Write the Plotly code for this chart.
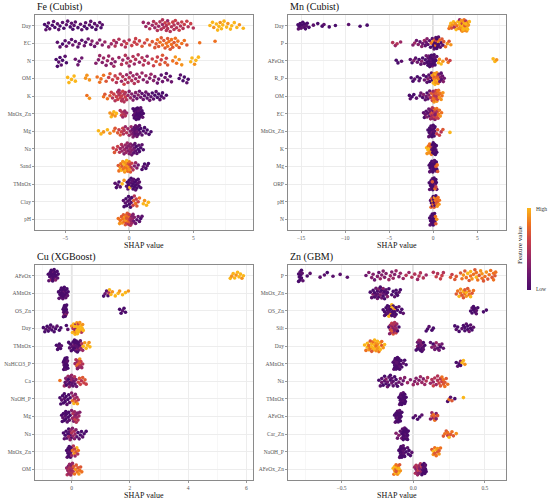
import numpy as np
import plotly.graph_objects as go

# ---------------- DATA (SHAP value, feature value 0=low..10=high) ----------------
FE_FEATURES = ["Day", "EC", "N", "OM", "K", "MnOx_Zn", "Mg", "Na", "Sand", "TMnOx", "Clay", "pH"]
FE_SHAP = [
    # Day
    [-6.6, -6.5, -6.4, -6.3, -6.2, -6.0, -5.9, -5.8, -5.6, -5.5,
     -5.4, -5.2, -5.1, -4.9, -4.8, -4.6, -4.5, -4.4, -4.3, -4.2,
     -4.0, -3.8, -3.7, -3.5, -3.4, -3.3, -3.1, -3.0, -2.9, -2.7,
     -2.6, -2.5, -2.3, -2.2, -2.1,
     1.1, 1.3, 1.5, 1.6, 1.8, 1.9, 2.0, 2.1, 2.2, 2.3,
     2.4, 2.5, 2.6, 2.6, 2.7, 2.8, 2.9, 2.9, 3.0, 3.0,
     3.1, 3.2, 3.3, 3.4, 3.5, 3.5, 3.6, 3.7, 3.8, 3.9,
     4.0, 4.1, 4.2, 4.3, 4.5, 4.6, 4.8, 5.0,
     6.3, 6.5, 6.6, 6.8, 6.9, 7.0, 7.1, 7.2, 7.3, 7.4,
     7.6, 7.7, 7.9, 8.0, 8.2, 8.4, 8.6, 8.9],
    # EC
    [-5.6, -5.4, -5.2, -5.0, -4.9, -4.7, -4.5, -4.4, -4.2, -4.0,
     -3.9, -3.7, -3.5, -3.4, -3.2, -3.0, -2.9, -2.7, -2.5, -2.3,
     -2.1, -1.9, -1.6, -1.4, -1.2, -1.0, -0.8, -0.6, -0.4, -0.2,
     0.0, 0.2, 0.4, 0.6, 0.8, 1.0, 1.2, 1.4, 1.6, 1.8,
     2.0, 2.2, 2.3, 2.5, 2.6, 2.8, 2.9, 3.0, 3.1, 3.2,
     3.3, 3.4, 3.6, 3.7, 3.9, 4.1, 4.3, 4.5, 5.5, 6.7,
     2.1, 2.4, 2.7, 3.0, 3.3, 3.5, 3.8, -1.1, -0.3, 0.5],
    # N
    [-5.7, -5.6, -5.5, -5.4, -5.3, -5.2, -5.0, -4.9,
     -4.2, -4.0, -3.9, -3.7,
     -2.6, -2.4, -2.3, -2.1, -2.0, -1.8, -1.7, -1.6, -1.4, -1.3, -1.2, -1.1,
     -0.8, -0.6, -0.5, -0.3, -0.2, 0.0, 0.1, 0.3, 0.4, 0.5, 0.7, 0.8, 1.0, 1.1, 1.2, 1.4, 1.5, -0.1,
     1.8, 1.9, 2.1, 2.2, 2.4, 2.5, 2.6, 2.8, 2.9, 3.0,
     3.4, 3.6, 3.7, 3.9, 4.1,
     4.8, 4.9, 5.1, 5.2, 5.4],
    # OM
    [-4.8, -4.7, -4.5, -4.3, -4.2,
     -3.4, -3.3, -3.1,
     -2.5, -2.3, -2.2, -2.0,
     -1.8, -1.6, -1.5, -1.3, -1.1,
     -1.0, -0.9, -0.7, -0.6, -0.5, -0.4, -0.3, -0.2, -0.1, 0.0, 0.1, 0.2, 0.3, 0.4, 0.5, 0.6, 0.7, 0.8,
     1.0, 1.1, 1.3, 1.4, 1.6, 1.7, 1.9, 2.0,
     2.2, 2.3, 2.5, 2.6, 2.8, 2.9, 3.0, 3.2, 3.3,
     3.9, 4.0, 4.2, 4.3, 4.5, 4.6],
    # K
    [-3.3, -3.1,
     -2.0, -1.9, -1.7, -1.5,
     -1.4, -1.3, -1.2, -1.1, -1.0, -0.9, -0.9, -0.8, -0.7, -0.7, -0.6, -0.5, -0.5, -0.4, -0.3, -0.3, -0.2, -0.8, -0.6, -0.4,
     -0.1, 0.0, 0.1, 0.2, 0.3, 0.4, 0.5, 0.6, 0.7, 0.8, 0.9, 1.0, 1.1, 1.2, 1.3, 1.4, 1.5, 1.6,
     1.7, 1.8, 1.9, 2.0, 2.1, 2.2, 2.3, 2.4, 2.5, 2.6, 2.7, 2.9],
    # MnOx_Zn
    [-1.5, -1.4, -1.3, -1.2, -1.1, -1.0,
     -0.7, -0.6, -0.55, -0.5, -0.4, -0.35, -0.3, -0.2,
     0.3, 0.35, 0.4, 0.4, 0.45, 0.5, 0.5, 0.55, 0.6, 0.6, 0.6, 0.65, 0.7, 0.7, 0.75, 0.8, 0.8, 0.85, 0.9, 0.9,
     0.95, 1.0, 1.05, 1.1, 0.55, 0.65],
    # Mg
    [-2.4, -2.2, -2.0, -1.7, -1.5,
     -1.2, -1.1, -0.9, -0.8, -0.7, -0.6, -0.5,
     -0.45, -0.4, -0.3, -0.2, -0.1, 0.0, 0.1, 0.15,
     0.2, 0.25, 0.3, 0.35, 0.4, 0.4, 0.45, 0.5, 0.5, 0.55, 0.6, 0.65, 0.7, 0.75, 0.8, 0.85, 0.9, 1.0, 1.1, 1.2, 1.3, 0.6,
     1.4, 1.55, 1.7],
    # Na
    [-1.25, -1.15, -1.0, -0.9, -0.75,
     -0.7, -0.6, -0.55, -0.5, -0.4, -0.35, -0.3, -0.2, -0.15, -0.1, 0.0, 0.05, 0.1, 0.15, 0.2, 0.25, 0.3, -0.25, -0.05, 0.1,
     0.35, 0.4, 0.45, 0.5, 0.55, 0.6, 0.7, 0.75, 0.8, 0.9, 1.0, 1.1],
    # Sand
    [-0.85, -0.8, -0.7, -0.65, -0.6, -0.55, -0.5, -0.45, -0.4, -0.35, -0.3, -0.25, -0.2, -0.15, -0.1, -0.05, 0.0, 0.05, 0.1, 0.15,
     0.2, 0.3, -0.3, -0.2, -0.1, 0.0,
     0.4, 0.5, 0.6, 0.7,
     1.0, 1.1, 1.2, 1.3, 1.4, 1.5],
    # TMnOx
    [-1.1, -1.0, -0.9, -0.8, -0.7,
     -0.55, -0.4,
     -0.2, -0.15, -0.1, -0.05, 0.0, 0.05, 0.1, 0.15, 0.2, 0.25, 0.3, 0.35, 0.4, 0.45, 0.5, 0.55, 0.6, 0.65, 0.7, 0.75,
     0.8, 0.9, 0.3, 0.5],
    # Clay
    [-0.45, -0.4, -0.3, -0.25, -0.2, -0.1, -0.05, 0.0, 0.05, 0.1, 0.15, 0.2,
     0.3, 0.35, 0.4, 0.5, 0.55, 0.6, 0.7, 0.8,
     1.1, 1.2, 1.35, 1.5],
    # pH
    [-0.85, -0.75, -0.7, -0.6, -0.55, -0.5, -0.45, -0.4, -0.35, -0.3, -0.25, -0.2, -0.15, -0.1, -0.05, 0.0, 0.05, 0.1, 0.15, 0.2,
     0.25, 0.3, 0.35, 0.4, 0.5, 0.6, 0.7, 0.8, 0.9, 1.0,
     -0.3, -0.1, 0.1, 0.2, -0.2, 0.0],
]
FE_FVAL = [
    [0, 1, 0, 1, 1, 0, 1, 0, 1, 1, 0, 1, 0, 1, 1, 0, 1, 0, 1, 1, 0, 1, 1, 0, 1, 0, 1, 1, 0, 1, 0, 1, 1, 0, 1,
     4, 4, 4, 5, 4, 5, 4, 5, 5, 4, 5, 5, 4, 5, 5, 6, 5, 5, 4, 5, 6, 5, 5, 6, 5, 5, 6, 5, 5, 6, 5, 6, 5, 6, 6, 5, 6, 5,
     10, 10, 9, 10, 10, 10, 9, 10, 10, 10, 10, 9, 10, 10, 10, 10, 9, 10],
    [1, 1, 0, 1, 2, 1, 1, 2, 1, 1, 2, 1, 2, 1, 2, 2, 3, 2, 3, 3, 3, 4, 4, 4, 5, 4, 5, 5, 5, 6,
     5, 6, 6, 6, 6, 7, 6, 7, 7, 7, 7, 8, 7, 7, 8, 7, 8, 7, 8, 7, 8, 7, 8, 8, 7, 8, 8, 7, 8, 8,
     7, 8, 7, 8, 8, 7, 8, 5, 5, 6],
    [0, 0, 1, 0, 1, 0, 1, 0,
     2, 2, 1, 2,
     3, 3, 4, 3, 4, 3, 4, 4, 3, 4, 4, 3,
     4, 5, 4, 5, 5, 4, 5, 5, 4, 5, 5, 4, 5, 5, 5, 4, 5, 4,
     6, 6, 7, 6, 7, 6, 7, 7, 6, 7,
     8, 9, 8, 9, 9,
     10, 10, 9, 10, 10],
    [10, 10, 10, 10, 10,
     9, 9, 9,
     8, 8, 8, 8,
     7, 6, 7, 6, 6,
     5, 6, 5, 4, 5, 6, 5, 4, 5, 5, 4, 5, 4, 5, 4, 4, 5, 4,
     4, 3, 4, 3, 3, 4, 3, 3,
     2, 2, 1, 2, 2, 1, 2, 1, 2,
     0, 1, 0, 0, 1, 0],
    [8, 9,
     8, 7, 8, 7,
     6, 5, 6, 5, 6, 5, 6, 5, 6, 5, 5, 6, 5, 5, 6, 5, 5, 4, 6, 5,
     4, 3, 4, 3, 3, 2, 3, 2, 3, 2, 2, 1, 2, 1, 2, 1, 1, 2,
     1, 0, 1, 0, 1, 0, 0, 1, 0, 0, 1, 0],
    [9, 10, 9, 10, 9, 10,
     5, 6, 5, 4, 5, 4, 5, 4,
     0, 1, 0, 0, 1, 0, 0, 1, 0, 0, 1, 0, 0, 1, 0, 0, 1, 0, 0, 1, 0, 0, 1, 0, 0, 0],
    [10, 10, 9, 10, 9,
     8, 7, 7, 6, 7, 6, 6,
     5, 5, 4, 5, 4, 4, 3, 4,
     3, 2, 3, 2, 1, 2, 1, 2, 1, 1, 2, 1, 1, 0, 1, 1, 0, 1, 0, 0, 1, 2,
     0, 0, 0],
    [6, 7, 6, 6, 5,
     4, 5, 4, 4, 3, 4, 4, 3, 4, 3, 3, 4, 3, 3, 2, 3, 2, 4, 3, 3,
     1, 2, 1, 1, 0, 1, 0, 1, 0, 0, 1, 0],
    [7, 8, 9, 8, 10, 7, 9, 8, 10, 9, 8, 10, 9, 8, 7, 9, 8, 6, 7, 5, 6, 5, 9, 10, 8, 9,
     3, 4, 3, 2,
     0, 1, 0, 0, 1, 0],
    [1, 0, 1, 0, 1,
     10, 9,
     1, 0, 1, 0, 0, 10, 1, 0, 0, 1, 0, 1, 0, 0, 1, 0, 0, 1, 0, 0, 1, 0, 0, 0],
    [1, 0, 1, 0, 0, 1, 0, 0, 1, 0, 1, 0,
     6, 7, 5, 8, 6, 7, 6, 8,
     10, 9, 10, 10],
    [8, 9, 8, 7, 9, 8, 7, 8, 9, 7, 8, 6, 7, 8, 5, 6, 7, 5, 4, 3, 4, 3, 2, 3, 2, 1, 2, 1, 0, 1,
     9, 8, 5, 4, 7, 6],
]

MN_FEATURES = ["Day", "P", "AFeOx", "R_P", "OM", "EC", "MnOx_Zn", "K", "Mg", "ORP", "pH", "N"]
MN_SHAP = [
    [-15.35, -15.3, -15.2, -15.1, -15.0, -14.9, -14.8, -14.7, -14.6, -14.5, -14.4, -14.3, -14.1, -13.6, -13.1, -12.6,
     -12.4, -11.8, -11.1, -9.6, -8.3, -7.5,
     1.8, 1.9, 2.0, 2.1, 2.2, 2.3, 2.4, 2.5, 2.6, 2.7, 2.8, 2.9, 3.0, 3.0, 3.1, 3.1, 3.2, 3.2, 3.3, 3.3,
     3.4, 3.4, 3.5, 3.5, 3.6, 3.6, 3.7, 3.7, 3.8, 3.8, 3.9, 3.9, 4.0, 4.1, 3.3, 3.5, 3.6, 3.4, 3.2, 3.7],
    [-4.6, -4.3, -4.1, -3.7,
     -2.3, -2.1, -1.9, -1.7, -1.5, -1.3, -1.2, -1.0, -0.9, -0.8, -0.7, -0.6,
     -0.4, -0.3, -0.2, -0.1, 0.0, 0.0, 0.1, 0.1, 0.2, 0.2, 0.3, 0.3, 0.4, 0.4, 0.5, 0.5, 0.6, 0.6, 0.7, 0.8,
     0.9, 1.0, 1.1, 0.2, 0.3, 0.4,
     1.2, 1.4, 1.6, 1.8, 2.0],
    [-4.2, -4.0, -3.6,
     -2.6, -2.4, -2.2, -2.0, -1.8, -1.6, -1.4, -1.3, -1.2, -1.0, -0.9, -0.8,
     -0.7, -0.6, -0.5, -0.5, -0.4, -0.4, -0.3, -0.3, -0.2, -0.2, -0.1, -0.1, 0.0, 0.0, 0.1, 0.1, 0.2, 0.2, 0.3, 0.4,
     -0.6, -0.4, -0.2, 0.0, -0.3, 0.1,
     0.6, 0.7, 0.9, 1.1,
     1.5, 1.7, 1.9,
     6.8, 7.0, 7.2],
    [-2.5, -2.3, -2.1, -1.8, -1.6, -1.5,
     -1.1, -1.0, -0.8, -0.7, -0.6, -0.5, -0.4, -0.3, -0.2, -0.1,
     -0.1, 0.0, 0.05, 0.1, 0.15, 0.2, 0.25, 0.3, 0.35, 0.4, 0.45, 0.5, 0.55, 0.6, 0.2, 0.3,
     0.65, 0.75, 0.85, 0.95, 1.05, 1.15, 1.25, 0.9],
    [-2.7, -2.6, -2.4, -2.2, -1.9,
     -1.5, -1.4, -1.2, -1.1, -0.9, -0.8, -0.7, -0.6, -0.5, -0.4,
     -0.3, -0.2, -0.1, 0.0, 0.0, 0.1, 0.1, 0.2, 0.2, 0.3, 0.3, 0.4, 0.4, 0.5, 0.5, 0.6, 0.6, 0.7, 0.1, 0.2, 0.3, 0.0,
     0.8, 0.9, 1.0, 1.1],
    [-1.1, -1.0, -0.9, -0.8, -0.7, -0.6, -0.5, -0.4,
     -0.35, -0.3, -0.25, -0.2, -0.15, -0.1, -0.05, 0.0, 0.05, 0.1, 0.15, 0.2, 0.25, 0.3, 0.35, 0.4, 0.45, 0.5,
     0.55, 0.6, 0.0, 0.1, 0.2, -0.1,
     0.7, 0.8, 0.95],
    [-0.6, -0.5, -0.45, -0.4, -0.35, -0.3, -0.25, -0.2, -0.15, -0.1, -0.05, 0.0, 0.05, 0.1, 0.15, 0.2, -0.2, -0.1, 0.0, 0.1,
     0.4, 0.5, 0.7, 0.9, 1.1,
     1.9],
    [-0.75, -0.7, -0.6, -0.55, -0.5, -0.45, -0.4, -0.3, -0.25, -0.2,
     -0.15, -0.1, -0.05, 0.0, 0.0, 0.05, 0.1, 0.1, 0.15, 0.2, 0.2, 0.25, 0.3, 0.35, 0.4, 0.1],
    [-0.45, -0.4, -0.35, -0.3, -0.25, -0.2, -0.15, -0.1, -0.05, 0.0, 0.0, 0.05, 0.1, 0.15, 0.2, 0.25, 0.3, 0.35, 0.4, -0.1,
     0.3, 0.45, 0.5],
    [-0.45, -0.4, -0.3, -0.25, -0.2, -0.15, -0.1, -0.05, 0.0, 0.0, 0.05, 0.1, 0.15, 0.2, 0.25, 0.3, 0.35, 0.4, -0.1, 0.1,
     -0.1, 0.2, 0.3],
    [-0.3, -0.25, -0.2, -0.15, -0.1, -0.05, 0.0, 0.0, 0.05, 0.1, 0.1, 0.15, 0.2, 0.25, 0.3, 0.35, 0.4, 0.45, 0.5, 0.55,
     0.65, 0.7],
    [-0.4, -0.35, -0.3, -0.25, -0.2, -0.15, -0.1, -0.05, 0.0, 0.0, 0.05, 0.1, 0.15, 0.2, -0.1, 0.0,
     0.25, 0.3, 0.4],
]
MN_FVAL = [
    [0, 1, 0, 0, 1, 0, 0, 1, 0, 0, 1, 0, 0, 1, 0, 0, 1, 0, 0, 1, 0, 0,
     8, 9, 10, 7, 9, 10, 5, 9, 10, 8, 10, 9, 10, 4, 9, 10, 8, 10, 9, 6,
     10, 9, 10, 8, 10, 9, 5, 10, 9, 10, 8, 10, 9, 10, 9, 10, 7, 10, 9, 10],
    [5, 4, 5, 4,
     3, 4, 2, 3, 1, 3, 2, 4, 1, 2, 3, 1,
     1, 0, 8, 1, 0, 9, 1, 0, 7, 0, 1, 8, 0, 1, 0, 9, 1, 0, 8, 1, 0, 7, 1, 0, 6, 0,
     7, 8, 9, 7, 9],
    [0, 0, 1,
     1, 0, 3, 1, 2, 0, 1, 3, 0, 1, 0, 2,
     0, 1, 0, 2, 0, 1, 0, 0, 1, 0, 0, 2, 0, 1, 0, 0, 1, 0, 0, 1, 0, 0, 1, 0, 0, 0,
     10, 9, 10, 9,
     7, 8, 6,
     10, 10, 9],
    [0, 0, 1, 0, 1, 0,
     1, 2, 0, 1, 3, 1, 0, 2, 1, 0,
     9, 10, 8, 9, 10, 7, 9, 10, 8, 9, 10, 7, 9, 8, 10, 9,
     3, 2, 3, 1, 2, 3, 2, 1],
    [0, 1, 0, 0, 1,
     1, 2, 0, 3, 1, 2, 0, 1, 3, 2,
     5, 7, 6, 8, 4, 7, 9, 5, 8, 6, 7, 9, 5, 8, 6, 7, 8, 9, 6, 5, 7, 8,
     8, 9, 8, 9],
    [1, 0, 2, 1, 3, 1, 2, 1,
     2, 4, 6, 3, 5, 7, 4, 2, 6, 8, 5, 3, 7, 6, 4, 8, 7, 5, 6, 8, 4, 6, 3, 5,
     8, 9, 8],
    [0, 1, 0, 0, 1, 0, 0, 1, 0, 2, 0, 1, 0, 0, 1, 0, 0, 1, 0, 0,
     6, 7, 6, 5, 7,
     10],
    [10, 9, 10, 8, 9, 10, 8, 9, 7, 8,
     1, 0, 0, 1, 0, 0, 1, 0, 0, 1, 0, 0, 1, 0, 0, 0],
    [0, 1, 0, 0, 1, 0, 0, 1, 0, 0, 1, 0, 0, 1, 0, 0, 1, 0, 0, 0,
     7, 8, 7],
    [0, 1, 0, 0, 1, 0, 2, 0, 0, 1, 0, 0, 1, 0, 2, 0, 0, 1, 0, 0,
     7, 8, 6],
    [1, 8, 0, 7, 1, 9, 0, 8, 1, 7, 0, 9, 1, 8, 0, 7, 8, 9, 7, 8, 9, 8],
    [0, 1, 0, 0, 1, 0, 0, 1, 0, 0, 1, 0, 0, 1, 0, 0,
     8, 7, 9],
]

CU_FEATURES = ["AFeOx", "AMnOx", "OS_Zn", "Day", "TMnOx", "NaHCO3_P", "Ca", "NaOH_P", "Mg", "Na", "MnOx_Zn", "OM"]
CU_SHAP = [
    [-0.8, -0.78, -0.75, -0.73, -0.7, -0.7, -0.68, -0.66, -0.65, -0.63, -0.62, -0.6, -0.58, -0.57, -0.55, -0.53, -0.5,
     -0.48, -0.46, -0.64, -0.7, -0.6,
     5.45, 5.5, 5.55, 5.6, 5.65, 5.7, 5.75, 5.8, 5.85, 5.9],
    [-0.45, -0.43, -0.4, -0.38, -0.36, -0.35, -0.33, -0.32, -0.3, -0.28, -0.27, -0.25, -0.23, -0.22, -0.2, -0.18, -0.16,
     -0.14, -0.12, -0.3, -0.25, -0.35,
     1.1, 1.15, 1.2, 1.25, 1.28, 1.3,
     1.35, 1.4, 1.5, 1.6, 1.65, 1.75, 1.85, 1.95],
    [-0.29, -0.28, -0.27, -0.26, -0.25, -0.24, -0.23, -0.22, -0.21, -0.2, -0.19, -0.18, -0.17, -0.16, -0.25, -0.22,
     1.65, 1.7, 1.75, 1.8, 1.85],
    [-0.97, -0.92, -0.88, -0.84, -0.8, -0.76, -0.72, -0.68, -0.64, -0.6, -0.55, -0.5, -0.42, -0.37,
     -0.18, -0.13,
     0.0, 0.03, 0.05, 0.07, 0.1, 0.12, 0.14, 0.16, 0.18, 0.2, 0.22, 0.24, 0.26, 0.28, 0.3, 0.32, 0.34, 0.36, 0.38, 0.4,
     0.1, 0.15, 0.2, 0.25, 0.12, 0.18],
    [-0.52, -0.48, -0.45, -0.42, -0.38, -0.35,
     -0.1, -0.07, -0.04, -0.01, 0.02, 0.05, 0.08, 0.1, 0.12, 0.14, 0.16, 0.18, 0.2, 0.22, 0.24, 0.26, 0.28, 0.3,
     0.05, 0.1, 0.15, 0.2,
     0.32, 0.35, 0.38,
     0.4, 0.45, 0.5, 0.55, 0.6, 0.63],
    [-0.28, -0.27, -0.26, -0.25, -0.24, -0.23, -0.22, -0.21, -0.2, -0.19, -0.18, -0.17, -0.16, -0.15, -0.14, -0.13,
     -0.22, -0.2,
     0.12, 0.15, 0.18, 0.2, 0.22, 0.24, 0.26, 0.28, 0.3, 0.32, 0.35, 0.38, 0.2, 0.26],
    [-0.4,
     -0.25, -0.22, -0.2, -0.18, -0.15, -0.12, -0.1, -0.08, -0.05, -0.02, 0.0, 0.02, 0.05, 0.08, 0.1, 0.12, 0.15, 0.17,
     -0.1, 0.0, 0.05, -0.05,
     0.23, 0.27, 0.3, 0.34, 0.38, 0.42, 0.46, 0.5],
    [-0.4, -0.37, -0.34, -0.31, -0.28, -0.25, -0.22, -0.19, -0.16, -0.13, -0.1, -0.07, -0.05, -0.25,
     0.0, 0.03, 0.05, 0.08, 0.1, 0.13, 0.15, 0.18, 0.2, 0.23],
    [-0.34, -0.32, -0.3, -0.28, -0.25, -0.22, -0.2, -0.18, -0.15, -0.12, -0.1, -0.08, -0.05, -0.2,
     0.0, 0.03, 0.05, 0.07, 0.1, 0.12, 0.14, 0.16, 0.18, 0.2, 0.22, 0.25, 0.28, 0.1],
    [-0.28, -0.25, -0.22, -0.19, -0.16, -0.13, -0.1, -0.07, -0.04, -0.01,
     -0.05, -0.02, 0.0, 0.03, 0.05, 0.08, 0.1, 0.12, 0.15, -0.1,
     0.18, 0.22, 0.26, 0.3, 0.34, 0.38, 0.43, 0.5],
    [-0.17, -0.15, -0.13, -0.11, -0.09, -0.07, -0.05, -0.03, -0.01, -0.12, -0.08, -0.04,
     0.0, 0.03, 0.06, 0.09, 0.12, 0.15, 0.18, 0.21, 0.23, 0.1],
    [-0.17, -0.15, -0.13, -0.11, -0.09, -0.07, -0.05, -0.03, -0.01, 0.01, 0.03, 0.05, -0.1, -0.06, -0.02, 0.02,
     0.07, 0.1, 0.13, 0.16, 0.19, 0.22, 0.25, 0.28, 0.31, 0.35],
]
CU_FVAL = [
    [0, 1, 0, 0, 4, 0, 1, 0, 0, 2, 0, 0, 1, 0, 3, 0, 0, 1, 0, 0, 0, 0,
     10, 9, 10, 10, 9, 10, 10, 10, 9, 10],
    [0, 1, 0, 0, 1, 0, 0, 0, 1, 0, 0, 2, 0, 0, 1, 0, 0, 1, 0, 0, 0, 0,
     0, 2, 1, 0, 5, 10,
     10, 9, 10, 10, 9, 10, 10, 9],
    [0, 0, 1, 0, 3, 0, 0, 1, 0, 0, 4, 0, 0, 1, 0, 0,
     0, 0, 1, 0, 0],
    [0, 0, 1, 0, 0, 1, 0, 0, 1, 0, 0, 1, 0, 0,
     0, 1,
     9, 10, 5, 10, 9, 10, 4, 10, 9, 10, 10, 6, 10, 9, 10, 10, 5, 10, 9, 10,
     10, 9, 10, 10, 4, 10],
    [0, 0, 1, 0, 0, 1,
     0, 1, 0, 0, 1, 0, 2, 0, 0, 1, 0, 3, 0, 1, 0, 2, 0, 1,
     0, 0, 1, 0,
     4, 5, 4,
     10, 9, 10, 10, 9, 10],
    [0, 0, 1, 0, 0, 1, 0, 0, 1, 0, 0, 1, 0, 0, 1, 0,
     0, 0,
     4, 5, 7, 4, 8, 5, 4, 9, 5, 6, 4, 5, 3, 7],
    [8,
     4, 1, 3, 0, 2, 4, 1, 3, 0, 2, 4, 1, 3, 2, 5, 1, 3, 2,
     0, 4, 1, 3,
     6, 7, 6, 5, 7, 6, 7, 6],
    [0, 0, 1, 0, 0, 1, 0, 0, 1, 0, 0, 1, 0, 0,
     3, 8, 4, 10, 5, 3, 7, 4, 9, 5],
    [0, 0, 1, 0, 0, 1, 0, 0, 1, 0, 0, 1, 0, 0,
     3, 4, 5, 3, 4, 6, 3, 5, 4, 3, 5, 4, 3, 4],
    [0, 1, 0, 0, 1, 0, 0, 1, 0, 0,
     3, 4, 5, 3, 4, 5, 3, 4, 3, 4,
     1, 0, 1, 0, 0, 1, 0, 0],
    [0, 1, 0, 0, 1, 0, 0, 1, 0, 0, 0, 0,
     4, 8, 5, 9, 4, 7, 10, 5, 8, 6],
    [4, 5, 4, 3, 5, 4, 5, 4, 3, 5, 4, 5, 4, 5, 4, 5,
     7, 8, 9, 7, 8, 7, 9, 8, 7, 8],
]

ZN_FEATURES = ["P", "MnOx_Zn", "OS_Zn", "Silt", "Day", "AMnOx", "Na", "TMnOx", "AFeOx", "Car_Zn", "NaOH_P", "AFeOx_Zn"]
ZN_SHAP = [
    [-0.8, -0.795, -0.79, -0.785, -0.78, -0.775, -0.79, -0.78, -0.8, -0.77,
     -0.74, -0.72, -0.65, -0.62, -0.6, -0.56, -0.51, -0.46,
     -0.33, -0.31, -0.29, -0.27, -0.25, -0.23, -0.21, -0.19, -0.17, -0.15, -0.14, -0.12, -0.1, -0.28, -0.24, -0.2,
     -0.16, -0.13, -0.09, -0.22,
     -0.07, -0.05, -0.03, -0.01, 0.01, 0.03, 0.05, 0.07, 0.09, 0.04,
     0.14, 0.16, 0.17, 0.19, 0.2, 0.21,
     0.26, 0.27, 0.29, 0.3,
     0.33, 0.34, 0.35, 0.36, 0.37, 0.38, 0.39, 0.4, 0.41, 0.42, 0.43, 0.44, 0.45, 0.46, 0.47, 0.48, 0.49, 0.5,
     0.51, 0.52, 0.53, 0.4, 0.44, 0.48,
     0.54, 0.55, 0.56, 0.57, 0.575, 0.56],
    [-0.3, -0.29, -0.28, -0.27, -0.26, -0.25, -0.24, -0.23, -0.22, -0.21, -0.2, -0.19, -0.18, -0.17, -0.27, -0.25,
     -0.23, -0.21, -0.19, -0.24, -0.22, -0.2, -0.26, -0.28, -0.18, -0.23, -0.21, -0.25,
     -0.15, -0.14, -0.13, -0.12, -0.11, -0.1, -0.09, -0.12,
     0.3, 0.31, 0.32, 0.33, 0.34, 0.35, 0.36, 0.37, 0.38, 0.39, 0.4, 0.41, 0.42, 0.33, 0.35, 0.37, 0.39, 0.36],
    [-0.21, -0.2, -0.19, -0.18, -0.17, -0.16, -0.15, -0.14, -0.13, -0.12, -0.19, -0.17, -0.15, -0.13, -0.18, -0.16,
     -0.14, -0.2, -0.17, -0.15, -0.16, -0.14, -0.13, -0.18, -0.12, -0.15,
     -0.11, -0.1, -0.09, -0.08, -0.07,
     0.4, 0.41, 0.42, 0.43, 0.44, 0.45, 0.42, 0.43, 0.44, 0.41,
     0.49, 0.51],
    [-0.17, -0.165, -0.16, -0.155, -0.15, -0.145, -0.14, -0.135, -0.13, -0.125, -0.12, -0.115, -0.11, -0.1, -0.16,
     -0.15, -0.14, -0.13, -0.12, -0.15, -0.14, -0.13,
     0.09, 0.1, 0.11, 0.13, 0.14,
     0.29, 0.3, 0.31, 0.32, 0.34, 0.35, 0.36, 0.37, 0.38, 0.39, 0.4, 0.41, 0.42, 0.36, 0.38, 0.4],
    [-0.34, -0.33, -0.32, -0.31, -0.3, -0.29, -0.28, -0.27, -0.26, -0.25, -0.24, -0.23, -0.22, -0.21, -0.2, -0.32,
     -0.3, -0.28, -0.26, -0.24, -0.22, -0.29, -0.27, -0.25, -0.23, -0.31, -0.27, -0.25, -0.29, -0.26,
     0.02, 0.03, 0.04, 0.05, 0.06, 0.07, 0.08, 0.03, 0.04, 0.05, 0.06, 0.07, 0.04, 0.05, 0.06, 0.05, 0.03, 0.07,
     0.12, 0.13, 0.14, 0.15, 0.16, 0.17, 0.18, 0.19, 0.2, 0.21, 0.15, 0.18],
    [-0.14, -0.135, -0.13, -0.125, -0.12, -0.115, -0.11, -0.105, -0.1, -0.095, -0.09, -0.13, -0.12, -0.11, -0.1,
     -0.125, -0.115, -0.105, -0.12, -0.11, -0.13, -0.1, -0.115, -0.125,
     -0.085, -0.08, -0.07, -0.06, -0.05,
     0.3, 0.31, 0.32, 0.33, 0.34, 0.35, 0.36, 0.33],
    [-0.24, -0.23, -0.22, -0.21, -0.2, -0.19, -0.18, -0.17, -0.16, -0.15, -0.14, -0.13, -0.12, -0.11, -0.1, -0.22,
     -0.2, -0.18, -0.16, -0.14, -0.12, -0.19, -0.17, -0.15,
     -0.09, -0.08, -0.06, -0.04, -0.02, 0.0, 0.02, 0.03, 0.04, 0.05, 0.06, 0.07, 0.08, 0.09, -0.07, 0.01,
     0.1, 0.12, 0.13, 0.14, 0.15, 0.16, 0.17, 0.18, 0.19, 0.2, 0.14, 0.17,
     0.19, 0.2, 0.21, 0.22, 0.23, 0.24, 0.21, 0.22],
    [-0.1, -0.095, -0.09, -0.085, -0.08, -0.075, -0.07, -0.065, -0.06, -0.055, -0.05, -0.09, -0.08, -0.07, -0.06,
     -0.085, -0.075, -0.065, -0.08, -0.07, -0.09, -0.06,
     0.24, 0.25, 0.26, 0.27, 0.29,
     0.35],
    [-0.13, -0.125, -0.12, -0.115, -0.11, -0.105, -0.1, -0.095, -0.09, -0.085, -0.08, -0.12, -0.11, -0.1, -0.09,
     -0.115, -0.105, -0.095, -0.11, -0.1,
     0.0, 0.015, 0.03, 0.045, 0.06,
     0.12, 0.13, 0.14, 0.15, 0.16, 0.17, 0.13, 0.14, 0.15, 0.16],
    [-0.12, -0.11, -0.1, -0.09, -0.08,
     -0.08, -0.075, -0.07, -0.065, -0.06, -0.055, -0.05, -0.045, -0.04, -0.035, -0.07, -0.06, -0.05, -0.065, -0.055,
     -0.045, -0.06, -0.05, -0.07, -0.04,
     0.21, 0.22, 0.23, 0.24, 0.25, 0.26, 0.27, 0.28, 0.3, 0.24],
    [-0.1, -0.095, -0.09, -0.085, -0.08, -0.075, -0.07, -0.065, -0.06, -0.09, -0.08, -0.07, -0.085, -0.075, -0.08,
     -0.07, -0.09, -0.06,
     -0.05, -0.04, -0.03, -0.02, -0.01, -0.035,
     0.13, 0.14, 0.15, 0.16, 0.17, 0.18, 0.19, 0.14, 0.15, 0.16, 0.17, 0.18],
    [-0.14, -0.135, -0.13, -0.125, -0.12, -0.115, -0.11, -0.105, -0.1, -0.095, -0.09, -0.13, -0.12, -0.11, -0.1, -0.12,
     0.01, 0.015, 0.02, 0.025, 0.03, 0.035, 0.04, 0.045, 0.05, 0.055, 0.06, 0.02, 0.03, 0.04,
     0.06, 0.065, 0.07, 0.075, 0.08, 0.085, 0.09, 0.07, 0.08, 0.065, 0.075, 0.085],
]
ZN_FVAL = [
    [0, 0, 1, 0, 0, 1, 0, 0, 0, 1,
     0, 1, 1, 1, 0, 1, 1, 1,
     2, 3, 3, 2, 3, 4, 3, 3, 4, 3, 4, 4, 3, 3, 2, 3, 4, 3, 4, 3,
     4, 5, 4, 5, 5, 4, 5, 5, 4, 5,
     5, 6, 5, 6, 6, 5,
     7, 6, 7, 7,
     7, 8, 9, 7, 8, 10, 7, 8, 9, 8, 7, 10, 8, 7, 9, 8, 7, 8, 9, 7, 8, 10, 8, 9,
     8, 7, 8, 7, 8, 8],
    [0, 1, 3, 0, 2, 0, 3, 1, 0, 2, 0, 1, 3, 0, 0, 2, 0, 3, 1, 0, 2, 0, 1, 0, 0, 3, 0, 1,
     0, 0, 1, 0, 0, 1, 0, 0,
     7, 8, 10, 8, 7, 10, 8, 9, 7, 8, 10, 7, 8, 9, 7, 10, 8, 7],
    [0, 1, 0, 0, 1, 0, 10, 0, 9, 0, 0, 10, 0, 1, 0, 9, 0, 0, 1, 10, 0, 0, 0, 1, 0, 0,
     0, 1, 0, 0, 1,
     0, 1, 0, 0, 1, 0, 0, 0, 1, 0,
     0, 0],
    [0, 3, 5, 4, 6, 3, 7, 4, 5, 3, 6, 4, 0, 0, 4, 6, 3, 5, 4, 7, 5, 3,
     0, 0, 1, 0, 0,
     0, 1, 0, 0, 1, 0, 0, 1, 0, 2, 0, 0, 1, 0, 0, 1],
    [10, 8, 10, 9, 7, 10, 8, 10, 9, 10, 8, 10, 7, 9, 10, 10, 8, 10, 9, 10, 8, 7, 10, 9, 10, 8, 10, 9, 10, 8,
     0, 3, 0, 2, 0, 1, 0, 2, 4, 0, 3, 0, 1, 2, 0, 3, 0, 1,
     1, 3, 0, 2, 4, 1, 3, 0, 2, 1, 3, 2],
    [0, 1, 0, 0, 1, 0, 0, 1, 0, 0, 0, 1, 0, 0, 1, 0, 0, 0, 1, 0, 0, 0, 1, 0,
     0, 0, 1, 0, 0,
     0, 1, 0, 3, 10, 10, 9, 0],
    [0, 1, 2, 0, 1, 0, 2, 1, 0, 2, 1, 0, 1, 0, 2, 1, 0, 2, 0, 1, 0, 3, 0, 1,
     3, 2, 3, 4, 3, 4, 3, 4, 3, 4, 4, 3, 4, 5, 2, 3,
     5, 4, 5, 6, 5, 4, 5, 6, 5, 6, 4, 5,
     7, 8, 7, 8, 7, 8, 8, 7],
    [0, 1, 0, 0, 1, 0, 0, 1, 0, 0, 0, 0, 1, 0, 0, 1, 0, 0, 0, 1, 0, 0,
     0, 8, 1, 7, 0,
     10],
    [0, 1, 0, 0, 1, 0, 0, 1, 0, 0, 0, 0, 1, 0, 0, 0, 1, 0, 0, 0,
     0, 1, 0, 0, 1,
     3, 7, 4, 8, 3, 7, 4, 8, 7, 3],
    [3, 2, 3, 1, 2,
     0, 1, 0, 0, 1, 0, 0, 1, 0, 0, 0, 0, 1, 0, 0, 0, 1, 0, 0, 0,
     7, 8, 7, 6, 10, 7, 8, 7, 9, 8],
    [0, 1, 0, 0, 1, 0, 0, 1, 0, 0, 0, 1, 0, 0, 0, 1, 0, 0,
     0, 1, 0, 0, 1, 0,
     7, 9, 8, 10, 7, 9, 8, 10, 7, 8, 9, 7],
    [10, 8, 9, 10, 7, 10, 9, 8, 10, 7, 9, 10, 8, 9, 10, 7,
     4, 5, 3, 4, 5, 6, 4, 3, 5, 4, 6, 5, 4, 3,
     0, 1, 0, 0, 1, 0, 0, 1, 0, 0, 0, 1],
]

PANEL_TITLES = ["Fe (Cubist)", "Mn (Cubist)", "Cu (XGBoost)", "Zn (GBM)"]
X_TICK_STEP = [5, 5, 2, 0.5]
CBAR_LOW, CBAR_HIGH = 0, 10

# ---------------- LAYOUT GEOMETRY (screen pixels) ----------------
W, H = 550, 501
FONT = "Liberation Serif"
COLS = [(35, 253), (288, 506)]
ROWS = [(15, 230), (265, 480)]
XRANGES = [[-7.35, 9.66], [-16.48, 8.26], [-1.257, 6.23], [-0.874, 0.647]]
CBAR_BOX = (527, 531, 208, 290)   # x0, x1, y0(top), y1(bottom)


def px(x):
    return x / W


def py(y):
    return 1 - y / H


colorscale = [[0.0, "#4a0c6b"], [0.2, "#6c176e"], [0.4, "#9a2865"], [0.6, "#c93f4a"],
              [0.8, "#ee7020"], [1.0, "#fbb61a"]]


def sina_offsets(xs_px, half_width):
    xs_px = np.asarray(xs_px, float)
    n = len(xs_px)
    if n == 0:
        return np.zeros(0)
    bw = 4.0
    d = (xs_px[:, None] - xs_px[None, :]) / bw
    dens = np.exp(-0.5 * d * d).sum(axis=1)
    w = dens / dens.max()
    order = np.argsort(xs_px, kind="stable")
    u = np.zeros(n)
    for k, idx in enumerate(order):
        u[idx] = 2.0 * ((k * 0.6180339887 + 0.37) % 1.0) - 1.0
    return half_width * np.sqrt(w) * u


panels = [
    (FE_FEATURES, FE_SHAP, FE_FVAL),
    (MN_FEATURES, MN_SHAP, MN_FVAL),
    (CU_FEATURES, CU_SHAP, CU_FVAL),
    (ZN_FEATURES, ZN_SHAP, ZN_FVAL),
]

fig = go.Figure()
annotations = []
shapes = []
layout_axes = {}

for p, (feats, shap, fval) in enumerate(panels):
    ci, ri = p % 2, p // 2
    x0, x1 = COLS[ci]
    y0, y1 = ROWS[ri]
    xr = XRANGES[p]
    ppu = (x1 - x0) / (xr[1] - xr[0])
    xs_all, ys_all, cs_all = [], [], []
    for i, (xs, cs) in enumerate(zip(shap, fval)):
        m = min(len(xs), len(cs))
        xs = np.array(xs[:m], float)
        cs = np.array(cs[:m], float)
        off = sina_offsets(xs * ppu, 0.36)
        xs_all.extend(xs.tolist())
        ys_all.extend((i + off).tolist())
        cs_all.extend(cs.tolist())
    sfx = "" if p == 0 else str(p + 1)
    fig.add_trace(go.Scatter(
        x=xs_all, y=ys_all, mode="markers", xaxis="x" + sfx, yaxis="y" + sfx,
        marker=dict(size=3.6, color=cs_all, coloraxis="coloraxis", line=dict(width=0)),
        showlegend=False, hoverinfo="skip"))
    step = X_TICK_STEP[p]
    layout_axes["xaxis" + sfx] = dict(
        domain=[px(x0), px(x1)], anchor="y" + sfx, range=xr, automargin=False,
        tick0=0, dtick=step, tickformat=".1f" if step < 1 else "d",
        minor=dict(dtick=step / 2, tick0=0, showgrid=True, gridcolor="#f2f2f2", gridwidth=0.6),
        showgrid=True, gridcolor="#ebebeb", gridwidth=0.9, zeroline=False,
        ticks="outside", ticklen=2, tickcolor="#555", tickwidth=0.6,
        tickfont=dict(family=FONT, size=5.5, color="#555555"),
        showline=True, mirror=True, linecolor="#8a8a8a", linewidth=1)
    layout_axes["yaxis" + sfx] = dict(
        domain=[py(y1), py(y0)], anchor="x" + sfx, automargin=False,
        range=[len(feats) - 0.4, -0.6], tickmode="array",
        tickvals=list(range(len(feats))), ticktext=feats,
        showgrid=True, gridcolor="#ebebeb", gridwidth=0.9, zeroline=False,
        ticks="outside", ticklen=2, tickcolor="#555", tickwidth=0.6,
        tickfont=dict(family=FONT, size=5.5, color="#555555"),
        showline=True, mirror=True, linecolor="#8a8a8a", linewidth=1)
    shapes.append(dict(type="line", xref="x" + sfx, yref="y" + sfx + " domain",
                       x0=0, x1=0, y0=0, y1=1, layer="below",
                       line=dict(color="#b0b0b0", width=1.3)))
    annotations.append(dict(text=PANEL_TITLES[p], x=px(x0), y=py(y0 - 8),
                            xref="paper", yref="paper", xanchor="left", yanchor="middle",
                            showarrow=False, font=dict(family=FONT, size=10, color="#111")))
    annotations.append(dict(text="SHAP value", x=px((x0 + x1) / 2), y=py(y1 + 15),
                            xref="paper", yref="paper", xanchor="center", yanchor="middle",
                            showarrow=False, font=dict(family=FONT, size=8, color="#111")))

# colour-bar legend drawn as a thin gradient strip in its own small axis
cb_levels = np.linspace(CBAR_LOW, CBAR_HIGH, 101)
fig.add_trace(go.Heatmap(
    z=[[v] for v in cb_levels], y=cb_levels, x=[0], xaxis="x5", yaxis="y5",
    coloraxis="coloraxis", hoverinfo="skip", showscale=False))
cx0, cx1, cy0, cy1 = CBAR_BOX
layout_axes["xaxis5"] = dict(domain=[px(cx0), px(cx1)], anchor="y5", visible=False, automargin=False,
                             range=[-0.5, 0.5], fixedrange=True)
layout_axes["yaxis5"] = dict(domain=[py(cy1), py(cy0)], anchor="x5", visible=False,
                             automargin=False, range=[CBAR_LOW, CBAR_HIGH], fixedrange=True)

annotations += [
    dict(text="High", x=px(534), y=py(209), xref="paper", yref="paper", xanchor="left",
         yanchor="middle", showarrow=False, font=dict(family=FONT, size=5.5, color="#333")),
    dict(text="Low", x=px(534), y=py(289), xref="paper", yref="paper", xanchor="left",
         yanchor="middle", showarrow=False, font=dict(family=FONT, size=5.5, color="#333")),
    dict(text="Feature value", x=px(520), y=py(245), xref="paper", yref="paper", xanchor="center",
         yanchor="middle", textangle=-90, showarrow=False, font=dict(family=FONT, size=7, color="#222")),
]

fig.update_layout(
    width=W, height=H, margin=dict(l=0, r=0, t=0, b=0, autoexpand=False),
    paper_bgcolor="white", plot_bgcolor="white",
    font=dict(family=FONT),
    coloraxis=dict(colorscale=colorscale, cmin=CBAR_LOW, cmax=CBAR_HIGH, showscale=False),
    annotations=annotations, shapes=shapes, **layout_axes)

# the page body normally has an 8px margin; remove it so the figure fills the window exactly
fig.write_html("out.html",
               config={"displayModeBar": False, "staticPlot": True},
               post_script="document.body.style.margin='0px';document.body.style.overflow='hidden';")
